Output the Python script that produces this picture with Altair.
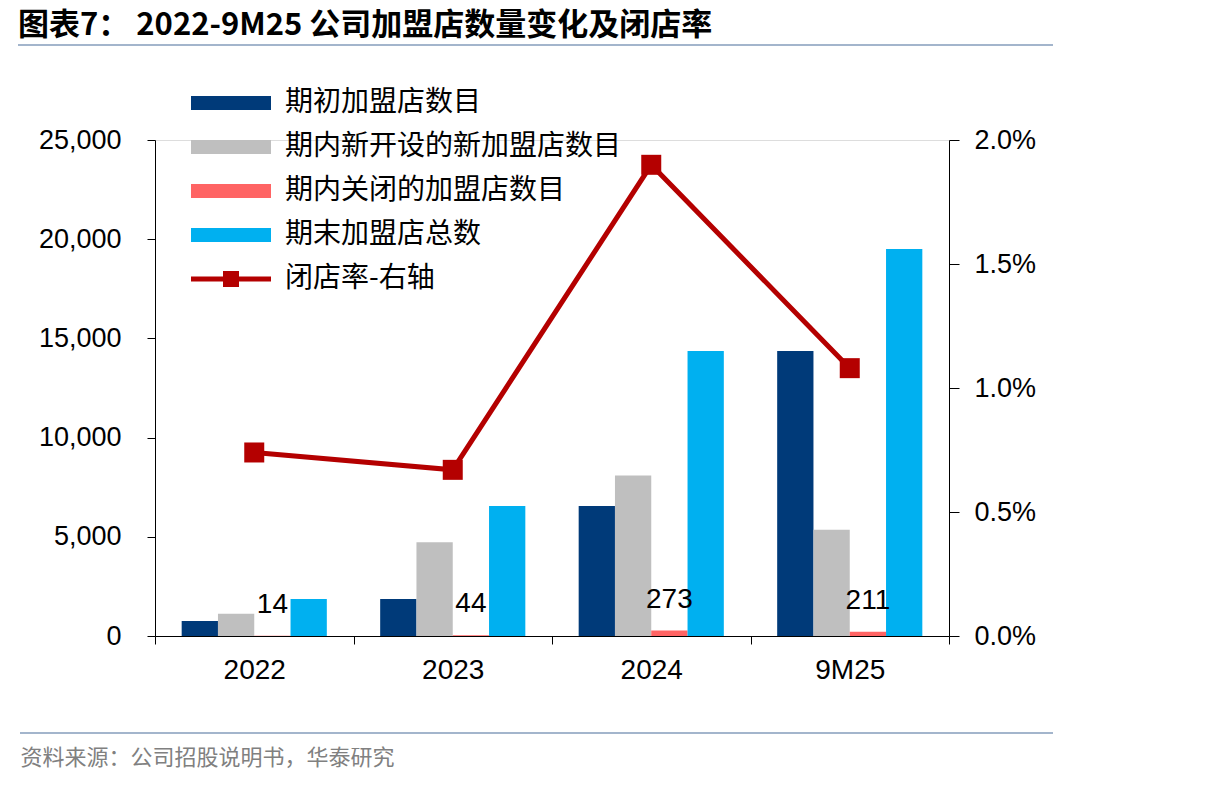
import altair as alt
import pandas as pd

# ---------------- data ----------------
years = ["2022", "2023", "2024", "9M25"]
series = ["期初加盟店数目", "期内新开设的新加盟店数目", "期内关闭的加盟店数目", "期末加盟店总数"]
opening = [760, 1866, 6552, 14365]
new_opened = [1120, 4730, 8086, 5352]
closed = [14, 44, 273, 211]
ending = [1866, 6552, 14365, 19506]
close_rate = [0.0074, 0.0067, 0.0190, 0.0108]
rate_name = "闭店率-右轴"
bar_colors = ["#003A79", "#BFBFBF", "#FF6464", "#00B0F0"]
line_color = "#B40000"
title_text = "图表7：  2022-9M25 公司加盟店数量变化及闭店率"
footer_text = "资料来源：公司招股说明书，华泰研究"

rows = []
for i, y in enumerate(years):
    for s, v in zip(series, [opening[i], new_opened[i], closed[i], ending[i]]):
        rows.append({"year": y, "series": s, "value": v})
df = pd.DataFrame(rows)
df_closed = df[df["series"] == series[2]].copy()
df_rate = pd.DataFrame({"year": years, "rate": close_rate, "name": [rate_name] * len(years)})

CJK = "Noto Sans CJK SC"
NUM = "Liberation Sans"

xscale = alt.Scale(domain=years, paddingInner=0, paddingOuter=0)
xaxis = alt.Axis(
    labelAngle=0, tickBand="extent", tickSize=8, tickColor="black", domainColor="black",
    labelFont=NUM, labelFontSize=28, labelColor="black", labelPadding=12,
    titleFont=CJK, titleFontSize=22, titleColor="#808080", titleFontWeight="normal",
    titleX=-135, titleY=121, titleAlign="left", titleBaseline="middle", titleAnchor="start",
)
xenc = alt.X("year:N", sort=years, scale=xscale, axis=xaxis, title=footer_text)
xoff = alt.XOffset("series:N", sort=series,
                   scale=alt.Scale(domain=series, paddingInner=0, paddingOuter=0.735))

left_scale = alt.Scale(domain=[0, 25000], nice=False)
left_axis = alt.Axis(
    orient="left", values=[0, 5000, 10000, 15000, 20000, 25000], format=",.0f", grid=False,
    tickSize=8, tickColor="black", domainColor="black", labelFont=NUM, labelFontSize=27,
    labelColor="black", labelPadding=26, title=None,
)
right_scale = alt.Scale(domain=[0, 0.02], nice=False)
right_axis = alt.Axis(
    orient="right", values=[0, 0.005, 0.01, 0.015, 0.02], format=".1%", grid=False,
    tickSize=10, tickColor="black", domainColor="black", labelFont=NUM, labelFontSize=27,
    labelColor="black", labelPadding=15, title=None,
)

bars = alt.Chart(df).mark_bar().encode(
    x=xenc,
    xOffset=xoff,
    y=alt.Y("value:Q", scale=left_scale, axis=left_axis, title=None),
    color=alt.Color(
        "series:N", sort=series,
        scale=alt.Scale(domain=series, range=bar_colors),
        legend=alt.Legend(
            orient="none", legendX=62, legendY=-51, title=None, direction="vertical",
            symbolType="M-8,-1.4H8V1.4H-8Z", symbolSize=100, symbolStrokeWidth=0,
            labelFont=CJK, labelFontSize=28, labelColor="black", labelOffset=40,
            rowPadding=16, labelLimit=600,
        ),
    ),
)

labels = alt.Chart(df_closed).mark_text(
    font=NUM, fontSize=28, color="black", baseline="alphabetic", dy=-23
).encode(
    x=xenc,
    xOffset=xoff,
    y=alt.Y("value:Q", scale=left_scale, axis=left_axis, title=None),
    text=alt.Text("value:Q"),
)

line = alt.Chart(df_rate).mark_line(color=line_color, strokeWidth=5).encode(
    x=xenc,
    y=alt.Y("rate:Q", scale=right_scale, axis=right_axis, title=None),
)

line_legend_path = "M-8,-0.5H-1.6V-1.6H1.6V-0.5H8V0.5H1.6V1.6H-1.6V0.5H-8Z"
points = alt.Chart(df_rate).mark_square(size=400, opacity=1, filled=True).encode(
    x=xenc,
    y=alt.Y("rate:Q", scale=right_scale, axis=right_axis, title=None),
    fill=alt.Fill(
        "name:N",
        scale=alt.Scale(domain=[rate_name], range=[line_color]),
        legend=alt.Legend(
            orient="none", legendX=62, legendY=125, title=None,
            symbolType=line_legend_path, symbolSize=100, symbolStrokeWidth=0,
            labelFont=CJK, labelFontSize=28, labelColor="black", labelOffset=40,
        ),
    ),
)

deco = alt.Data(values=[{"k": 1}])
top_rule = alt.Chart(deco).mark_rule(color="#A3B5CC", strokeWidth=2).encode(
    x=alt.value(-137), x2=alt.value(898), y=alt.value(-95)
)
bottom_rule = alt.Chart(deco).mark_rule(color="#A3B5CC", strokeWidth=2).encode(
    x=alt.value(-135), x2=alt.value(898), y=alt.value(593)
)

chart = alt.layer(
    alt.layer(bars, labels),
    alt.layer(line, points),
    top_rule,
    bottom_rule,
).resolve_scale(y="independent").properties(
    width=794,
    height=496,
    autosize=alt.AutoSizeParams(type="none"),
    padding={"left": 155, "top": 140, "right": 257, "bottom": 151},
    title=alt.TitleParams(
        title_text, anchor="start", frame="group", dx=-137, dy=35, offset=6,
        font=CJK, fontSize=31, fontWeight="bold", color="black", baseline="bottom",
    ),
).configure_view(stroke=None).configure(background="white")

chart.save("out.html", embed_options={"renderer": "svg", "actions": False})
